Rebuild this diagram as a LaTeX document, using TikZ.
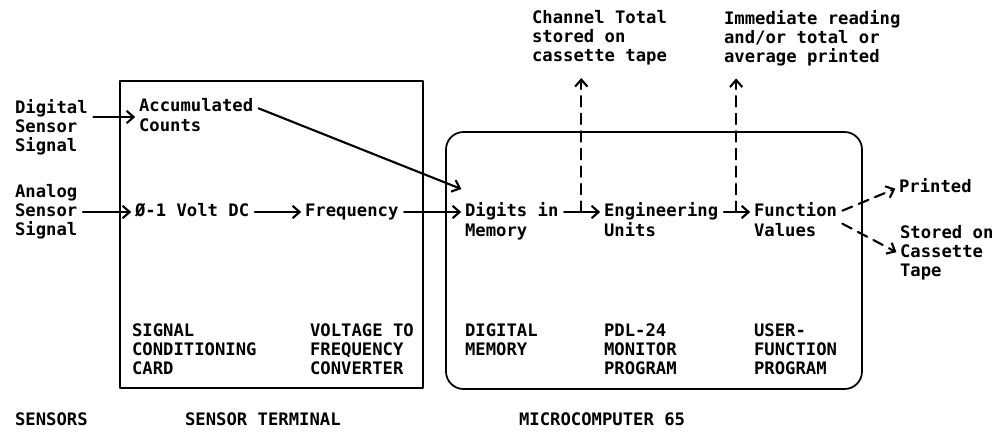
\documentclass[tikz,border=0pt]{standalone}
\usepackage{fontspec}
\newfontfamily\typewr{DejaVu Sans Mono}
\usetikzlibrary{arrows.meta}

\begin{document}
\begin{tikzpicture}[line cap=round,line join=round,x=0.2mm,y=-0.2mm,
		txt/.style={font=\typewr\bfseries\fontsize{9.8}{10.8}\selectfont,inner sep=1pt,anchor=west,align=left},
		word/.style={font=\typewr\bfseries\fontsize{9.8}{10.8}\selectfont,inner sep=1pt,anchor=west,text height=7pt,text depth=2pt},
		arr/.style={-{Straight Barb[length=4pt,width=7pt]},line width=1.2pt,shorten <=2pt,shorten >=1pt},
		darr/.style={arr,dash pattern=on 6pt off 4pt}]
			\useasboundingbox (0,0) rectangle (996,433);
			
			%% Boxes
			\draw [line width=1.pt] (120,81) rectangle (423,388);
			\draw [line width=1.pt,rounded corners=3.5mm] (446,132) rectangle (862,389);
			
			% Sensors
			\node[txt] (dig) at (13,127) {Digital\\Sensor\\Signal};
			\node[txt] (ana) at (13,212) {Analog\\Sensor\\Signal};
			
			% Sensor terminal
			\node[word] (acc) at (137,107) {Accumulated};
			\node[word,anchor=north west] (cnt) at (acc.south west) {Counts};
			\node[word] (volt) at (133,212) {Ø-1 Volt DC};
			\node[word] (freq) at (303,212) {Frequency};
			
			% Microcomputer
			\node[word] (digits) at (463,212) {Digits in};
			\node[word,anchor=north west] (mem) at (digits.south west) {Memory};
			\node[word] (eng) at (602,212) {Engineering};
			\node[word,anchor=north west] (units) at (eng.south west) {Units};
			\node[word] (func) at (752,212) {Function};
			\node[word,anchor=north west] (vals) at (func.south west) {Values};
			
			% Outputs
			\node[word] (printed) at (897,188) {Printed};
			\node[txt] (stored) at (898,253) {Stored on\\Cassette\\Tape};
			\node[txt] (chan) at (530,38) {Channel Total\\stored on\\cassette tape};
			\node[txt] (immed) at (722,38) {Immediate reading\\and/or total or\\average printed};
			
			%% Labels
			\node[txt] (sigcard) at (130,349) {SIGNAL\\CONDITIONING\\CARD};
			\node[txt] (vtof) at (308,349) {VOLTAGE TO\\FREQUENCY\\CONVERTER};
			\node[txt] (dmem) at (463,339.5) {DIGITAL\\MEMORY};
			\node[txt] (pdl) at (602,349) {PDL-24\\MONITOR\\PROGRAM};
			\node[txt] (ufp) at (752,349) {USER-\\FUNCTION\\PROGRAM};
			\node[word] (sens) at (13,421) {SENSORS};
			\node[word] (term) at (183,421) {SENSOR TERMINAL};
			\node[word] (micro) at (517,421) {MICROCOMPUTER 65};
			
			%% Arrows
			\draw[arr] (dig.east |- acc.south west) -- (acc.south west);
			\draw[arr] (ana) -- (volt);
			\draw[arr] (volt) -- (freq);
			\draw[arr] (freq) -- (digits);
			\draw[arr] (digits) -- (eng);
			\draw[arr] (eng) -- (func);
			\draw[arr] (acc.east) -- ([yshift=7pt]digits.north west);
			\draw[darr] (func.east) -- (printed.west);
			\draw[darr] (func.south east) -- (stored.west);
			\path (digits.east) -- (eng.west) coordinate[midway] (tap1);
			\path (eng.east) -- (func.west) coordinate[midway] (tap2);
			\draw[darr,shorten <=0pt,shorten >=6pt] (tap1) -- (tap1 |- chan.south);
			\draw[darr,shorten <=0pt,shorten >=6pt] (tap2) -- (tap2 |- immed.south);
		\end{tikzpicture}
\end{document}
